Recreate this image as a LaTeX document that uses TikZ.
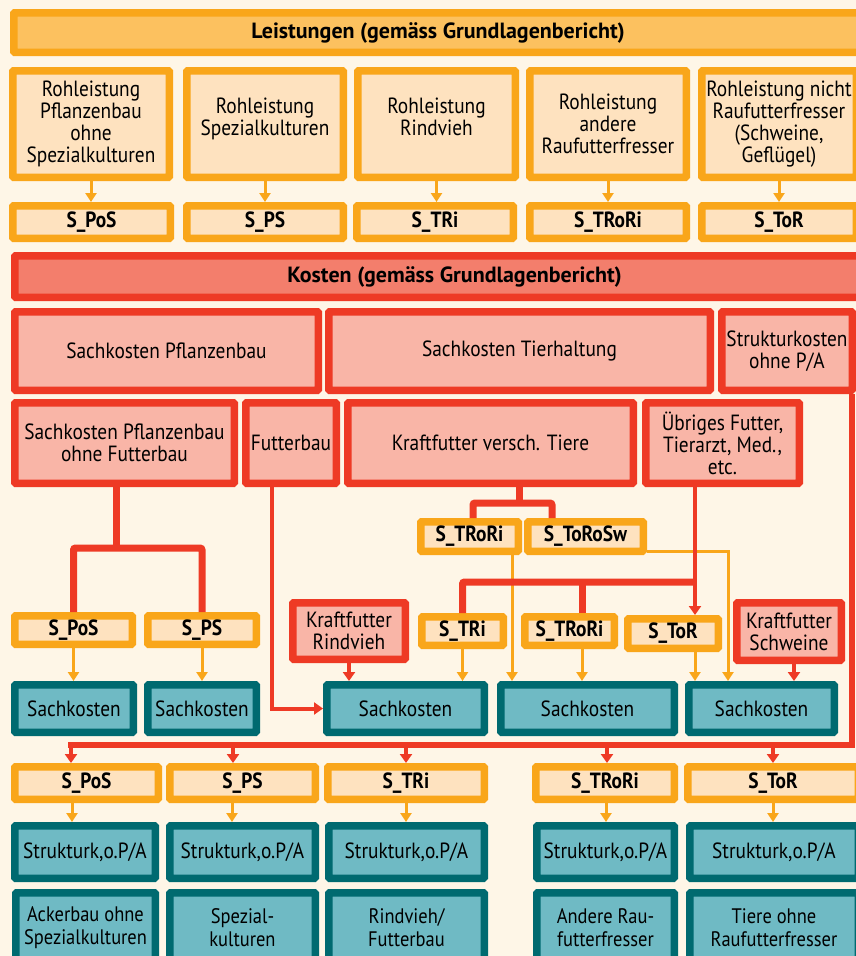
\documentclass[tikz,border=0pt]{standalone}
\usepackage{fontspec}
\setmainfont{PT Sans}[FakeStretch=0.88]
\newfontfamily\widefont{PT Sans}
\usetikzlibrary{arrows.meta}
\definecolor{bgc}{HTML}{FEF6E7}
\definecolor{orb}{HTML}{F9A61A}
\definecolor{ohf}{HTML}{FCC15F}
\definecolor{peach}{HTML}{FEE2BF}
\definecolor{redb}{HTML}{EE3A25}
\definecolor{rhf}{HTML}{F37E6C}
\definecolor{pinkf}{HTML}{F9B5A7}
\definecolor{tealb}{HTML}{006A70}
\definecolor{tealf}{HTML}{6FBAC4}
\newcommand\B[7]{\node[#1, minimum width={#4-#3-7.5}, minimum height={#6-#5-7.5}] (#2) at ({(#3+#4)/2},{(#5+#6)/2}) {#7};}
\tikzset{
  box/.style={rectangle, rounded corners=1pt, line width=7.5pt, inner sep=0pt, align=center, font=\fontsize{22}{22}\selectfont},
  ob/.style={box, draw=orb, fill=peach, font=\bfseries\fontsize{22}{22}\selectfont},
  obt/.style={box, draw=orb, fill=peach},
  ohead/.style={box, draw=orb, fill=ohf, font=\widefont\bfseries\fontsize{22}{22}\selectfont},
  rb/.style={box, draw=redb, fill=pinkf},
  rhead/.style={box, draw=redb, fill=rhf, font=\widefont\bfseries\fontsize{22}{22}\selectfont},
  tb/.style={box, draw=tealb, fill=tealf},
  tbs/.style={box, draw=tealb, fill=tealf, font=\fontsize{21}{23}\selectfont},
  oarr/.style={draw=orb, line width=3pt, -{Triangle[width=11pt,length=9pt]}},
  rarr/.style={draw=redb, line width=4pt, -{Triangle[width=12pt,length=9pt]}},
  rthick/.style={draw=redb, line width=7pt, rounded corners=2pt},
  rbus/.style={draw=redb, line width=6.5pt},
}
\begin{document}
\begin{tikzpicture}[x=1pt,y=-1pt]
\fill[bgc] (0,0) rectangle (856,956);
\useasboundingbox (0,0) rectangle (856,956);
\begin{scope}
\clip (0,0) rectangle (856,956);
% Leistungen
\B{ohead}{lh}{10}{866}{9}{56}{Leistungen (gemäss Grundlagenbericht)}
\B{obt}{r1}{9}{173}{67}{181}{Rohleistung\\Pflanzenbau\\ohne\\Spezialkulturen}
\B{obt}{r2}{183}{347}{67}{181}{Rohleistung\\Spezialkulturen\\[-8pt]}
\B{obt}{r3}{354}{519}{67}{181}{Rohleistung\\Rindvieh\\[-8pt]}
\B{obt}{r4}{526}{690}{67}{181}{Rohleistung\\andere\\Raufutterfresser}
\B{obt}{r5}{698}{860}{67}{181}{Rohleistung nicht\\Raufutterfresser\\(Schweine,\\Geflügel)}
\B{ob}{s1}{9}{174}{202}{242}{S\_PoS}
\B{ob}{s2}{183}{347}{202}{242}{S\_PS}
\B{ob}{s3}{353}{517}{202}{242}{S\_TRi}
\B{ob}{s4}{526}{690}{202}{242}{S\_TRoRi}
\B{ob}{s5}{698}{860}{202}{242}{S\_ToR}
% Kosten
\B{rhead}{kh}{11}{866}{252}{301}{\hspace*{32pt}Kosten (gemäss Grundlagenbericht)}
\B{rb}{spf}{11}{322}{308}{394}{Sachkosten Pflanzenbau}
\B{rb}{sth}{325}{714}{308}{394}{Sachkosten Tierhaltung}
\B{rb}{sk}{718}{856}{308}{394}{Strukturkosten\\ohne P/A}
\B{rb}{spof}{11}{238}{399}{487}{Sachkosten Pflanzenbau\\ohne Futterbau}
\B{rb}{fb}{242}{340}{399}{487}{Futterbau}
\B{rb}{kvt}{344}{637}{399}{487}{Kraftfutter versch. Tiere}
\B{rb}{uf}{642}{803}{399}{487}{Übriges Futter,\\Tierarzt, Med.,\\etc.}
% middle
\B{ob}{ma1}{417}{522}{518}{555}{S\_TRoRi}
\B{ob}{ma2}{524}{647}{518}{555}{S\_ToRoSw}
\B{ob}{mpos}{11}{136}{612}{648}{S\_PoS}
\B{ob}{mps}{144}{260}{612}{648}{S\_PS}
\B{rb}{kr}{289}{409}{599}{663}{Kraftfutter\\Rindvieh}
\B{ob}{mtri}{418}{507}{613}{649}{S\_TRi}
\B{ob}{mtrori}{521}{618}{613}{649}{S\_TRoRi}
\B{ob}{mtor}{624}{722}{615}{652}{S\_ToR}
\B{rb}{ks}{733}{845}{599}{664}{Kraftfutter\\Schweine}
\B{tb}{sa1}{11}{137}{681}{736}{Sachkosten}
\B{tb}{sa2}{144}{260}{681}{736}{Sachkosten}
\B{tb}{sa3}{323}{488}{681}{736}{Sachkosten}
\B{tb}{sa4}{497}{678}{681}{736}{Sachkosten}
\B{tb}{sa5}{685}{838}{681}{736}{Sachkosten}
% bottom
\B{ob}{b1}{11}{162}{763}{803}{S\_PoS}
\B{ob}{b2}{166}{319}{763}{803}{S\_PS}
\B{ob}{b3}{324}{488}{763}{803}{S\_TRi}
\B{ob}{b4}{532}{678}{763}{803}{S\_TRoRi}
\B{ob}{b5}{684}{862}{763}{803}{S\_ToR}
\B{tb}{st1}{11}{159}{822}{882}{Strukturk,o.P/A}
\B{tb}{st2}{166}{319}{822}{882}{Strukturk,o.P/A}
\B{tb}{st3}{325}{488}{822}{882}{Strukturk,o.P/A}
\B{tb}{st4}{533}{678}{822}{882}{Strukturk,o.P/A}
\B{tb}{st5}{686}{862}{822}{882}{Strukturk,o.P/A}
\B{tbs}{l1}{12}{159}{889}{966}{Ackerbau ohne\\Spezialkulturen}
\B{tbs}{l2}{166}{319}{889}{966}{Spezial-\\kulturen}
\B{tbs}{l3}{325}{488}{889}{966}{Rindvieh/\\Futterbau}
\B{tbs}{l4}{533}{678}{889}{966}{Andere Rau-\\futterfresser}
\B{tbs}{l5}{686}{862}{889}{966}{Tiere ohne\\Raufutterfresser}
% top arrows
\foreach \i in {1,...,5} {\draw[oarr] (r\i.south) -- (r\i.south |- s\i.north);}
% orange middle connectors (under red)
\draw[oarr] (mpos.south) -- (mpos.south |- sa1.north);
\draw[oarr] (mps.south) -- (mps.south |- sa2.north);
\draw[oarr] (mtri.south) -- (mtri.south |- sa3.north);
\draw[oarr] (ma1.south -| 512,0) -- (sa4.north -| 512,0);
\draw[oarr] (mtrori.south -| 582,0) -- (sa4.north -| 582,0);
\draw[oarr] (mtor.south -| 695,0) -- (sa5.north -| 695,0);
\draw[oarr] (ma2.east |- 0,551) -| (sa5.north -| 728,0);
% red connectors
\coordinate (j1) at (116,548);
\draw[rthick] (spof.south -| j1) -- (j1);
\draw[rthick] (mpos.north) |- (mps.north |- j1) -- (mps.north);
\draw[rarr] ([xshift=-19pt]fb.south) |- (sa3.west);
\coordinate (j2) at (519,503);
\draw[rthick] (kvt.south -| j2) -- (j2);
\draw[rthick] (ma1.north -| 473,0) |- (552,503) -- (ma2.north -| 552,0);
\coordinate (j3) at (695,582);
\draw[rarr] (uf.south -| j3) -- (mtor.north -| j3);
\draw[rthick] (mtri.north) |- (j3);
\draw[rthick] (mtrori.north -| 582,0) -- (582,582);
\draw[rarr] (kr.south) -- (kr.south |- sa3.north);
\draw[rarr] ([xshift=5pt]ks.south) -- ([xshift=5pt]ks.south |- sa5.north);
% bus
\coordinate (bus0) at (852,745);
\coordinate (bus1) at (71,745);
\draw[rbus] (sk.south -| bus0) -- (bus0) -- ([xshift=-3pt]bus1);
\foreach \x/\n in {71/b1,233/b2,406/b3,607/b4,773/b5} {\draw[rarr] (\x,745) -- (\n.north -| \x,0);}
\foreach \x/\n/\m in {72/b1/st1,232/b2/st2,406/b3/st3,606/b4/st4,773/b5/st5} {\draw[oarr] (\n.south -| \x,0) -- (\m.north -| \x,0);}
\end{scope}
\end{tikzpicture}
\end{document}
